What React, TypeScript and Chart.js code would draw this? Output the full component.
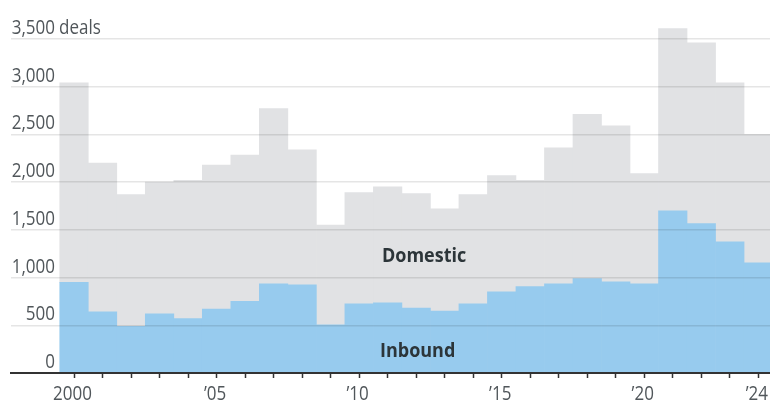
import { useEffect, useRef } from 'react';
import { Chart, registerables } from 'chart.js';

Chart.register(...registerables);

// Annual deal counts, 2000–2024
const years = [
  2000, 2001, 2002, 2003, 2004, 2005, 2006, 2007, 2008, 2009, 2010, 2011, 2012,
  2013, 2014, 2015, 2016, 2017, 2018, 2019, 2020, 2021, 2022, 2023, 2024,
];
const inboundDeals = [
  950, 640, 490, 620, 570, 670, 750, 935, 925, 505, 725, 735, 680,
  650, 725, 850, 905, 935, 990, 955, 935, 1700, 1565, 1375, 1155,
];
const domesticDeals = [
  2090, 1560, 1380, 1380, 1450, 1510, 1535, 1835, 1415, 1045, 1165, 1215, 1200,
  1070, 1145, 1220, 1115, 1425, 1720, 1635, 1155, 1910, 1895, 1665, 1345,
];

// Axis ticks
const yTickValues = [0, 500, 1000, 1500, 2000, 2500, 3000, 3500];
const yUnit = 'deals';
const xLabeledYears = [2000, 2005, 2010, 2015, 2020, 2024];
const xTickLabels = ['2000', '\u201905', '\u201910', '\u201915', '\u201920', '\u201924'];

// In-chart series names, anchored (left, baseline) in data space
const seriesNames = ['Domestic', 'Inbound'];
const seriesNameYears = [2010.8, 2010.73];
const seriesNameValues = [1166, 171];

const FONT_FAMILY = "'Open Sans', 'Liberation Sans', Arial, sans-serif";
const TICK_COLOR = '#50565a';
const NARROW = 0.85;
const BOLD_NARROW = 0.9;

// Draw text squeezed horizontally around its anchor point
function drawNarrowText(
  ctx: CanvasRenderingContext2D,
  text: string,
  x: number,
  y: number,
  align: CanvasTextAlign,
  sx: number
) {
  ctx.save();
  ctx.translate(x, y);
  ctx.scale(sx, 1);
  ctx.textAlign = align;
  ctx.fillText(text, 0, 0);
  ctx.restore();
}

const textLayer = {
  id: 'textLayer',
  afterDraw(chart: any) {
    const { ctx, chartArea, scales } = chart;
    const x = scales.x;
    const y = scales.y;
    ctx.save();
    ctx.textBaseline = 'alphabetic';

    // value axis labels, sitting just above their gridlines
    ctx.font = `20px ${FONT_FAMILY}`;
    ctx.fillStyle = TICK_COLOR;
    const labelRight = chartArea.left + 44;
    yTickValues.forEach((v, i) => {
      const py = y.getPixelForValue(v) - 5;
      drawNarrowText(ctx, v.toLocaleString('en-US'), labelRight, py, 'right', NARROW);
      if (i === yTickValues.length - 1) {
        drawNarrowText(ctx, yUnit, labelRight + 4, py, 'left', NARROW);
      }
    });

    // year labels under the axis
    const baseY = chartArea.bottom + 27;
    xLabeledYears.forEach((yr, i) => {
      drawNarrowText(ctx, xTickLabels[i], x.getPixelForValue(yr) - 1.5, baseY, 'center', NARROW);
    });

    // series names inside the bars
    ctx.font = `bold 20px ${FONT_FAMILY}`;
    ctx.fillStyle = '#2c3539';
    seriesNames.forEach((name, i) => {
      drawNarrowText(
        ctx,
        name,
        x.getPixelForValue(seriesNameYears[i]),
        y.getPixelForValue(seriesNameValues[i]),
        'left',
        BOLD_NARROW
      );
    });
    ctx.restore();
  },
};

export default function App() {
  const canvasRef = useRef<HTMLCanvasElement | null>(null);

  useEffect(() => {
    const canvas = canvasRef.current;
    if (!canvas) return;
    const chart = new Chart(canvas, {
      type: 'bar',
      data: {
        datasets: [
          {
            label: 'Inbound',
            data: years.map((yr, i) => ({ x: yr, y: inboundDeals[i] })),
            backgroundColor: '#97cbee',
            borderWidth: 0,
            barPercentage: 1,
            categoryPercentage: 1,
          },
          {
            label: 'Domestic',
            data: years.map((yr, i) => ({ x: yr, y: domesticDeals[i] })),
            backgroundColor: '#e1e2e4',
            borderWidth: 0,
            barPercentage: 1,
            categoryPercentage: 1,
          },
        ],
      },
      options: {
        animation: false,
        responsive: true,
        maintainAspectRatio: false,
        layout: { padding: { left: 11, right: 0, top: 10.4, bottom: 0 } },
        plugins: {
          legend: { display: false },
          tooltip: { enabled: false },
        },
        scales: {
          x: {
            type: 'linear',
            stacked: true,
            offset: false,
            min: 1997.79,
            max: 2024.41,
            afterBuildTicks: (scale: any) => {
              scale.ticks = years.map((v) => ({ value: v }));
            },
            afterFit: (scale: any) => {
              scale.height = 31;
            },
            grid: {
              offset: false,
              drawOnChartArea: false,
              drawTicks: true,
              tickLength: 5,
              tickColor: '#333333',
              tickWidth: 1.5,
            },
            border: { display: true, color: '#333333', width: 2, z: 1 },
            ticks: { display: false },
          },
          y: {
            stacked: true,
            min: 0,
            max: 3800,
            afterBuildTicks: (scale: any) => {
              scale.ticks = yTickValues.slice(1).map((v) => ({ value: v }));
            },
            afterFit: (scale: any) => {
              scale.width = 0;
            },
            grid: {
              color: 'rgba(0,0,0,0.1)',
              lineWidth: 1.5,
              drawTicks: false,
              z: 1,
            },
            border: { display: false },
            ticks: { display: false },
          },
        },
      },
      plugins: [textLayer],
    });
    return () => chart.destroy();
  }, []);

  return (
    <div style={{ position: 'absolute', left: 0, top: 0, width: 770, height: 404, background: '#ffffff' }}>
      <canvas ref={canvasRef} />
    </div>
  );
}
